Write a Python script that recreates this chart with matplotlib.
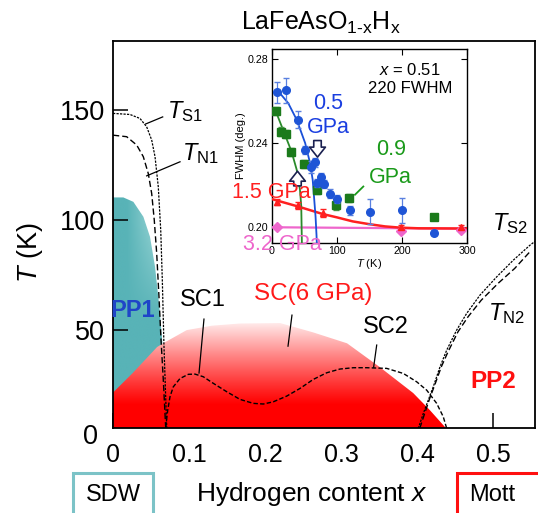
import numpy as np
import matplotlib
matplotlib.use('Agg')
import matplotlib.pyplot as plt
from matplotlib.patches import Polygon, Rectangle
from matplotlib.transforms import blended_transform_factory

plt.rcParams['font.family'] = ['Liberation Sans', 'DejaVu Sans']
plt.rcParams['mathtext.fontset'] = 'custom'
plt.rcParams['mathtext.rm'] = 'Liberation Sans'
plt.rcParams['mathtext.it'] = 'Liberation Sans:italic'
plt.rcParams['mathtext.bf'] = 'Liberation Sans:bold'

# ---------------- main phase diagram data ----------------
x_ticks = [0, 0.1, 0.2, 0.3, 0.4, 0.5]
x_ticklabels = ['0', '0.1', '0.2', '0.3', '0.4', '0.5']
y_ticks = [50, 100, 150]
y_ticklabels = ['50', '100', '150']

# PP1 (teal) region boundary
pp1_x = [0, 0, 0.0136, 0.0268, 0.040, 0.0487, 0.0553, 0.061, 0.065, 0.067, 0.068]
pp1_T = [0, 110.3, 110.3, 108.3, 101.5, 92.4, 78.8, 60.6, 43.9, 25, 0]

# SC (6 GPa) dome boundary
sc6_x = [0, 0, 0.026, 0.058, 0.066, 0.097, 0.13, 0.167, 0.22, 0.263, 0.308, 0.351, 0.395, 0.417, 0.438, 0.445]
sc6_T = [0, 21.6, 30.5, 42.3, 44, 50, 52, 53, 53.2, 49, 44, 33.2, 21.4, 13.6, 5.5, 0]

# T_S1 and T_N1
ts1_x = [0, 0.0224, 0.0355, 0.0443, 0.0509, 0.0553, 0.0596, 0.0628, 0.0649, 0.0671, 0.0693, 0.0707, 0.0712]
ts1_T = [148.5, 148.0, 146.2, 142.4, 136.4, 128.8, 115.1, 95.5, 72.7, 42.4, 19.7, 6.0, 0]
tn1_x = [0, 0.018, 0.0312, 0.0399, 0.0464, 0.0509, 0.0543, 0.0575, 0.0605, 0.0632, 0.0662, 0.0693, 0.0697]
tn1_T = [138.6, 137.9, 134.1, 128.8, 121.2, 112.1, 100, 84.9, 65.2, 45.5, 27.3, 6, 0]

# ambient-pressure Tc (SC1 / SC2)
sc0_x = [0.0695, 0.0697, 0.072, 0.075, 0.0793, 0.0882, 0.0991, 0.1079, 0.1188, 0.1320, 0.1496, 0.1671,
         0.1846, 0.1978, 0.2109, 0.2286, 0.2461, 0.2636, 0.2812, 0.2987, 0.3162, 0.3338, 0.3601,
         0.3820, 0.3996, 0.4128, 0.4259, 0.4346, 0.4391, 0.441]
sc0_T = [0, 6.8, 13.6, 19.7, 24.2, 28.0, 29.9, 30.0, 28.8, 25.8, 22.0, 18.5,
         16.7, 16.4, 17.4, 20.0, 23.5, 27.6, 30.6, 32.3, 32.9, 32.9, 32.6,
         30.3, 26.5, 22.7, 16.7, 10.6, 5.3, 0]

# T_S2 and T_N2
ts2_x = [0.4017, 0.4083, 0.4149, 0.4214, 0.4303, 0.4391, 0.4522, 0.4654, 0.4829, 0.5049, 0.5268, 0.5487, 0.5575]
ts2_T = [5.3, 12.1, 18.2, 24.2, 33.3, 40.9, 50, 57.6, 65.9, 74.2, 81.8, 88.6, 90.9]
tn2_x = [0.4036, 0.4101, 0.4167, 0.4233, 0.4320, 0.4408, 0.4539, 0.4671, 0.4846, 0.5066, 0.5285, 0.5483]
tn2_T = [5.3, 12.1, 18.9, 25, 33.3, 40.1, 49.2, 56, 63.6, 71.2, 78, 85.5]

# ---------------- inset data (x = 0.51, 220 FWHM) ----------------
in_xticks = [0, 100, 200, 300]
in_yticks = [0.20, 0.24, 0.28]
in_yticklabels = ['0.20', '0.24', '0.28']

b_T = [7, 21, 40.5, 51, 59.5, 66, 69, 75, 80.5, 89, 99.5, 120, 150, 200, 249]
b_F = [0.2643, 0.2651, 0.2511, 0.2368, 0.2286, 0.2308, 0.2210, 0.2236, 0.2206, 0.2159, 0.2133, 0.2079, 0.2074, 0.2079, 0.1974]
b_E = [0.005, 0.006, 0.004, 0.002, 0.003, 0.002, 0.002, 0.002, 0.002, 0.002, 0.002, 0.002, 0.006, 0.006, 0.001]
b_fit_T = [7, 12, 25, 38, 51, 58.5, 62.6, 65, 67, 68.5, 69]
b_fit_F = [0.2649, 0.2638, 0.2590, 0.2511, 0.2400, 0.2305, 0.2225, 0.2130, 0.2050, 0.1960, 0.1920]

g_T = [6.2, 13.8, 21, 29, 49.7, 69.7, 98.5, 119, 248.7]
g_F = [0.2554, 0.2455, 0.2443, 0.2357, 0.2300, 0.2178, 0.2103, 0.2138, 0.2046]
g_E = [0.002, 0.002, 0.002, 0.002, 0.002, 0.002, 0.002, 0.002, 0.001]
g_fit_T = [5, 17, 30, 38, 43, 45, 46]
g_fit_F = [0.2558, 0.2463, 0.2360, 0.2273, 0.2178, 0.2100, 0.1920]

r_T = [7, 40.5, 78, 198.5, 291]
r_F = [0.2119, 0.2103, 0.2067, 0.2000, 0.2000]
r_E = [0.0015, 0.0015, 0.002, 0.001, 0.001]
r_fit_T = [0, 40, 78, 100, 124, 149, 174, 198, 226, 300]
r_fit_F = [0.2133, 0.2098, 0.2062, 0.2046, 0.2027, 0.2014, 0.2003, 0.1997, 0.1994, 0.1993]

p_T = [7.5, 198.5, 291]
p_F = [0.1998, 0.1980, 0.1985]
p_fit_T = [0, 300]
p_fit_F = [0.1999, 0.1992]

# ---------------- figure ----------------
W, H = 538, 513
fig = plt.figure(figsize=(W / 100, H / 100), dpi=100)


def fx(px):
    return px / W


def fy(py):
    return 1 - py / H


ax = fig.add_axes([fx(113), fy(428), (535 - 113) / W, (428 - 41) / H])
XLIM = (0, 0.5553)
YLIM = (5.5, 181.4)

# teal PP1 region with gradient
xs = np.linspace(0, 0.07, 200)
Ts = np.linspace(0, 112, 200)
X, Y = np.meshgrid(xs, Ts)
light = np.clip((X - 0.018) / 0.045, 0, 1) * np.clip((Y - 55) / 45, 0, 1)
base = np.array([0x58, 0xb3, 0xb7]) / 255
lite = np.array([0xa4, 0xda, 0xda]) / 255
img = base + light[..., None] * (lite - base)
im1 = ax.imshow(img, extent=[0, 0.07, 0, 112], origin='lower', aspect='auto', zorder=1,
                interpolation='bilinear')
poly1 = Polygon(np.column_stack([pp1_x, pp1_T]), closed=True, transform=ax.transData,
                fc='none', ec='none')
ax.add_patch(poly1)
im1.set_clip_path(poly1)

# red SC(6 GPa) dome with vertical gradient
Tg = np.linspace(0, 56, 300)
frac = np.clip((Tg - 16) / 39, 0, 1) ** 1.1
red = np.array([1.0, 0.0, 0.0])
wht = np.array([1.0, 0.975, 0.975])
img2 = (red + frac[:, None] * (wht - red))[:, None, :]
im2 = ax.imshow(img2, extent=[0, 0.45, 0, 56], origin='lower', aspect='auto', zorder=2,
                interpolation='bilinear')
poly2 = Polygon(np.column_stack([sc6_x, sc6_T]), closed=True, transform=ax.transData,
                fc='none', ec='none')
ax.add_patch(poly2)
im2.set_clip_path(poly2)

# dashed lines
ax.plot(ts1_x, ts1_T, color='black', lw=0.9, ls=(0, (1.8, 1.0)), zorder=4)
ax.plot(tn1_x, tn1_T, color='black', lw=1.0, ls=(0, (4.5, 2.2)), zorder=4)
ax.plot(sc0_x, sc0_T, color='black', lw=1.0, ls=(0, (3.2, 1.6)), zorder=4)
ax.plot(ts2_x, ts2_T, color='black', lw=0.9, ls=(0, (1.8, 1.0)), zorder=4)
ax.plot(tn2_x, tn2_T, color='black', lw=1.0, ls=(0, (4.5, 2.2)), zorder=4)

# leader lines
lead_kw = dict(color='black', lw=0.9, zorder=5)
ax.plot([0.0431, 0.0654], [143.7, 146.9], **lead_kw)
ax.plot([0.0443, 0.0882], [120.1, 126.5], **lead_kw)
ax.plot([0.1197, 0.1132], [55, 30.5], **lead_kw)
ax.plot([0.2355, 0.2303], [56.8, 42.7], **lead_kw)
ax.plot([0.347, 0.343], [43.2, 33.2], **lead_kw)

# labels
ax.text(0.071, 146.4, r'$T_{\mathregular{S1}}$', fontsize=17, zorder=6)
ax.text(0.091, 127.3, r'$T_{\mathregular{N1}}$', fontsize=17, zorder=6)
ax.text(0.4987, 95.5, r'$T_{\mathregular{S2}}$', fontsize=17, zorder=6)
ax.text(0.4934, 54.5, r'$T_{\mathregular{N2}}$', fontsize=17, zorder=6)
ax.text(0.026, 59.1, 'PP1', fontsize=17, fontweight='bold', color='#1f45c8',
        ha='center', va='center', zorder=6)
ax.text(0.501, 26.8, 'PP2', fontsize=17.5, fontweight='bold', color='#ff1010',
        ha='center', va='center', zorder=6)
ax.text(0.118, 63.6, 'SC1', fontsize=17, ha='center', va='center', zorder=6)
ax.text(0.359, 51.4, 'SC2', fontsize=17, ha='center', va='center', zorder=6)
ax.text(0.263, 66.4, 'SC(6 GPa)', fontsize=17.5, color='#ff1a1a', ha='center', va='center', zorder=6)

ax.set_xlim(*XLIM)
ax.set_ylim(*YLIM)
ax.set_xticks(x_ticks)
ax.set_xticklabels(x_ticklabels)
ax.set_yticks(y_ticks)
ax.set_yticklabels(y_ticklabels)
ax.tick_params(axis='x', direction='in', length=11, width=1.1, labelsize=18, pad=11)
ax.tick_params(axis='y', direction='in', length=11, width=1.1, labelsize=19.5, pad=6)
for sp in ax.spines.values():
    sp.set_linewidth(1.3)
# the "0" of the temperature axis
trans = blended_transform_factory(ax.transAxes, ax.transData)
ax.text(-0.054, 1.4, '0', transform=trans, fontsize=19.5, ha='center', va='center')

# axis labels and title
fig.text(fx(30), fy(253), r'$T$ (K)', rotation=90, ha='center', va='center', fontsize=19.5)
fig.text(fx(312), fy(494), r'Hydrogen content $x$', ha='center', va='center', fontsize=19)
fig.text(fx(321), fy(23), r'LaFeAsO$_{\mathregular{1\text{-}x}}$H$_{\mathregular{x}}$',
         ha='center', va='center', fontsize=18)

# SDW and Mott boxes
fig.patches.append(Rectangle((fx(73), fy(520)), (153 - 73) / W, (520 - 473) / H,
                             transform=fig.transFigure, fill=False, ec='#7cc3c7', lw=2.2))
fig.text(fx(113), fy(495), 'SDW', ha='center', va='center', fontsize=17)
fig.patches.append(Rectangle((fx(457), fy(520)), (560 - 457) / W, (520 - 473) / H,
                             transform=fig.transFigure, fill=False, ec='#ff1010', lw=2.2))
fig.text(fx(492), fy(495), 'Mott', ha='center', va='center', fontsize=17)

# ---------------- inset ----------------
ins = fig.add_axes([fx(272), fy(243), (467 - 272) / W, (243 - 49) / H])
ins.set_facecolor('white')
blue = '#1f55d6'
green = '#1b7a1b'
redc = '#ff2020'
pink = '#ee66cc'

ins.plot(p_fit_T, p_fit_F, color=pink, lw=1.6, zorder=3)
ins.plot(p_T, p_F, ls='none', marker='D', ms=5.5, color=pink, zorder=4)
ins.plot(r_fit_T, r_fit_F, color=redc, lw=1.8, zorder=3)
ins.errorbar(r_T, r_F, yerr=r_E, fmt='^', ms=5, color=redc, ecolor=redc, elinewidth=0.9,
             capsize=2, zorder=4)
ins.plot(g_fit_T, g_fit_F, color='#2a8a2a', lw=1.3, zorder=3)
ins.errorbar(g_T, g_F, yerr=g_E, fmt='s', ms=5.5, color=green, ecolor='#4a9a4a', elinewidth=0.9,
             capsize=2, zorder=4)
ins.plot(b_fit_T, b_fit_F, color='#1a50d8', lw=1.3, zorder=3)
ins.errorbar(b_T, b_F, yerr=b_E, fmt='o', ms=5.5, color=blue, ecolor='#5a80e0', elinewidth=0.9,
             capsize=2, zorder=5)

arrow_kw = dict(arrowstyle='simple,head_width=0.95,head_length=0.6,tail_width=0.45',
                fc='white', ec='#1a2050', lw=1.2, mutation_scale=12, shrinkA=0, shrinkB=0)
ins.annotate('', xy=(70, 0.2333), xytext=(70, 0.2412), arrowprops=arrow_kw, zorder=6)
ins.annotate('', xy=(39.2, 0.2266), xytext=(39.2, 0.2196), arrowprops=arrow_kw, zorder=6)

ins.plot([140.5, 127.7], [0.2193, 0.2154], color='#1a9a1a', lw=1.3, zorder=3)

ins.text(212, 0.2749, r'$x$ = 0.51', ha='center', va='center', fontsize=12, zorder=7)
ins.text(212, 0.2662, '220 FWHM', ha='center', va='center', fontsize=12, zorder=7)
ins.text(86, 0.2590, '0.5', ha='center', va='center', fontsize=15.5, color='#1a3ee0', zorder=7)
ins.text(87, 0.2475, 'GPa', ha='center', va='center', fontsize=15.5, color='#1a3ee0', zorder=7)
ins.text(183, 0.2368, '0.9', ha='center', va='center', fontsize=15.5, color='#1a9a1a', zorder=7)
ins.text(181.5, 0.2237, 'GPa', ha='center', va='center', fontsize=15.5, color='#1a9a1a', zorder=7)
ins.text(-1.5, 0.2166, '1.5 GPa', ha='center', va='center', fontsize=15.5, color=redc,
         zorder=7, clip_on=False)
ins.text(16, 0.1916, '3.2 GPa', ha='center', va='center', fontsize=15.5, color=pink,
         zorder=7, clip_on=False)

ins.set_xlim(0, 300)
ins.set_ylim(0.1924, 0.2848)
ins.set_xticks(in_xticks)
ins.set_yticks(in_yticks)
ins.set_yticklabels(in_yticklabels)
ins.tick_params(direction='in', top=True, right=True, length=4, width=0.8, labelsize=7.7, pad=2.5)
for sp in ins.spines.values():
    sp.set_linewidth(1.0)
ins.set_xlabel(r'$T$ (K)', fontsize=8, labelpad=0.5)
ins.set_ylabel('FWHM (deg.)', fontsize=8, labelpad=1)

fig.savefig('out.png', dpi=100)
